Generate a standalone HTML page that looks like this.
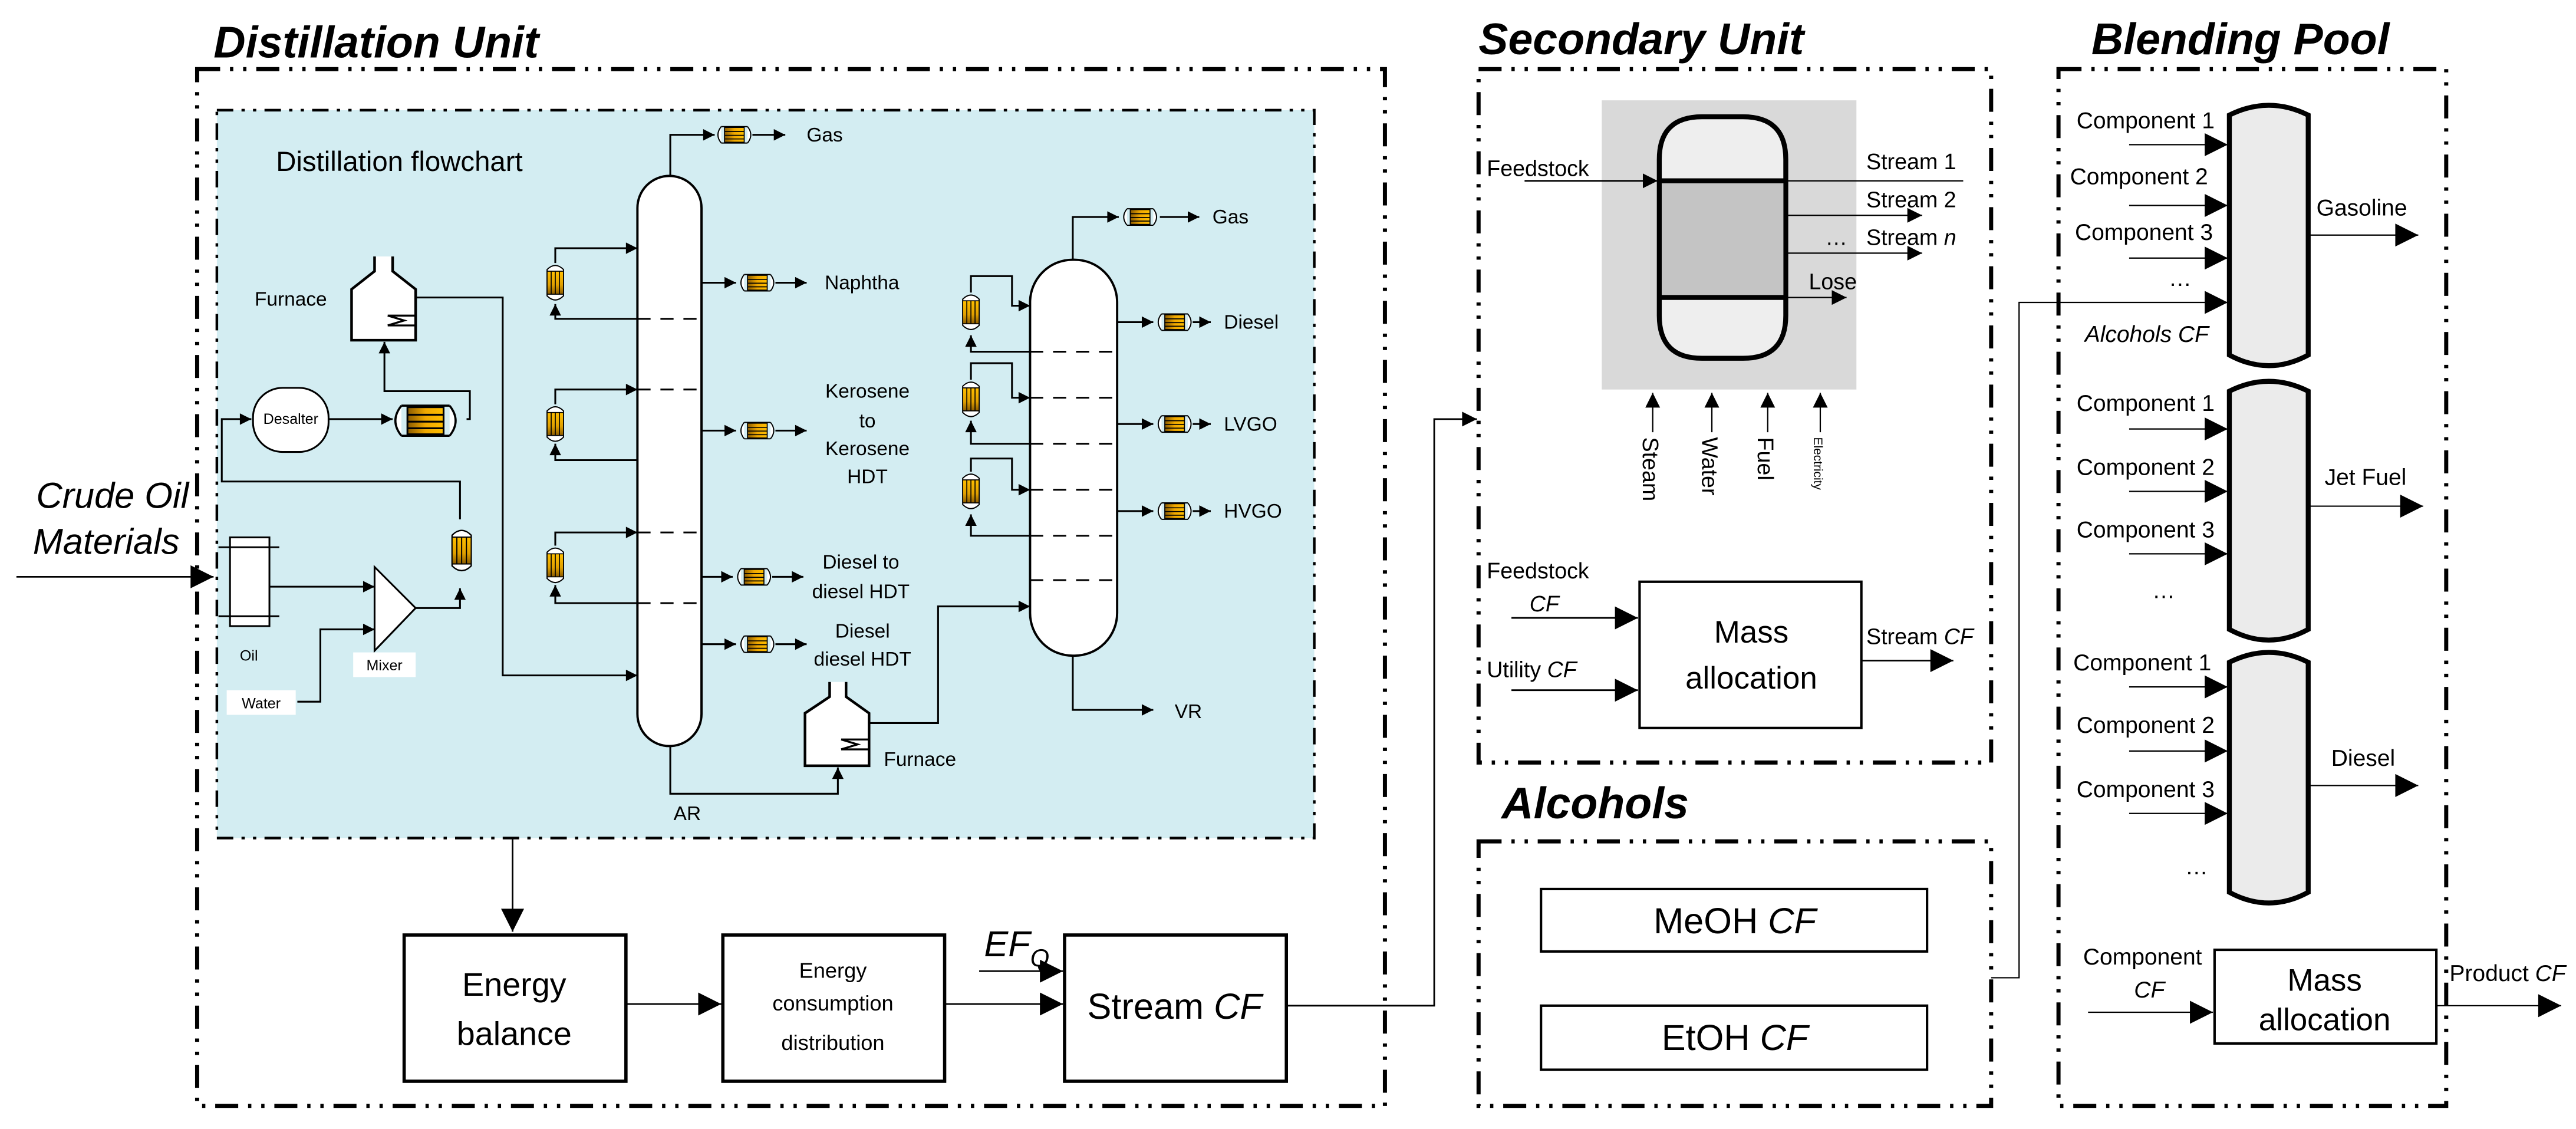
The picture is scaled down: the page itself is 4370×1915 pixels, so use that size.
<!DOCTYPE html>
<html><head><meta charset="utf-8">
<style>
html,body{margin:0;padding:0;background:#fff;}
svg{display:block;}
text{font-family:"Liberation Sans",sans-serif;fill:#000;}
</style></head>
<body>
<svg width="4370" height="1915" viewBox="0 0 1568 687" xmlns="http://www.w3.org/2000/svg">
<defs>
<marker id="s" viewBox="0 0 10 10" refX="10" refY="5" markerUnits="userSpaceOnUse" markerWidth="8" markerHeight="7" orient="auto"><path d="M0,0L10,5L0,10z"/></marker>
<marker id="m" viewBox="0 0 10 10" refX="10" refY="5" markerUnits="userSpaceOnUse" markerWidth="13" markerHeight="9" orient="auto"><path d="M0,0L10,5L0,10z"/></marker>
<marker id="b" viewBox="0 0 10 10" refX="10" refY="5" markerUnits="userSpaceOnUse" markerWidth="20" markerHeight="14" orient="auto"><path d="M0,0L10,5L0,10z"/></marker>
<linearGradient id="og" x1="0" x2="1" y1="0" y2="0"><stop offset="0" stop-color="#8a5a00"/><stop offset="0.5" stop-color="#f0a800"/><stop offset="1" stop-color="#ffbf00"/></linearGradient>
<linearGradient id="ogv" x1="0" x2="0" y1="0" y2="1"><stop offset="0" stop-color="#ffbf00"/><stop offset="0.6" stop-color="#e0a000"/><stop offset="1" stop-color="#8a5a00"/></linearGradient>
<symbol id="hx" viewBox="-11 -6 22 12" overflow="visible">
<path d="M-8,-5 Q-12,0 -8,5 M8,-5 Q12,0 8,5" fill="#fff" stroke="#000" stroke-width="0.7"/>
<path d="M-8,-5 L8,-5 M-8,5 L8,5" stroke="#000" stroke-width="0.7"/>
<rect x="-6" y="-4.5" width="12" height="9" fill="url(#og)" stroke="#000" stroke-width="0.6"/>
<path d="M-6,-2 H6 M-6,0.3 H6 M-6,2.5 H6" stroke="#000" stroke-width="0.6"/>
</symbol>
<symbol id="vx" viewBox="-6 -12 12 24" overflow="visible">
<path d="M-5,-8 Q0,-13 5,-8 L5,8 Q0,13 -5,8 Z" fill="#fff" stroke="#000" stroke-width="0.7"/>
<rect x="-5" y="-7" width="10" height="14" fill="url(#ogv)" stroke="#000" stroke-width="0.6"/>
<path d="M-2.5,-7 V7 M0,-7 V7 M2.5,-7 V7" stroke="#000" stroke-width="0.6"/>
</symbol>
</defs>

<!-- ============ DISTILLATION UNIT ============ -->
<text x="130" y="35" font-size="27" font-weight="bold" font-style="italic">Distillation Unit</text>
<rect x="120" y="42" width="723" height="631" fill="none" stroke="#000" stroke-width="2.5" stroke-dasharray="14 6 2 6 2 6"/>
<rect x="132" y="67" width="668" height="443" fill="#d3edf2" stroke="#000" stroke-width="1.6" stroke-dasharray="10 5 2 5 2 5"/>
<text x="168" y="104" font-size="17">Distillation flowchart</text>

<text x="22" y="309" font-size="22" font-style="italic">Crude Oil</text>
<text x="20" y="337" font-size="22" font-style="italic">Materials</text>
<line x1="10" y1="351" x2="130" y2="351" stroke="#000" stroke-width="1" marker-end="url(#b)"/>

<g stroke="#000" stroke-width="1.1" fill="none">
<rect x="140" y="327" width="24" height="54" fill="#fff"/>
<line x1="133" y1="333" x2="170" y2="333"/><line x1="133" y1="375" x2="170" y2="375"/>
<line x1="164" y1="357" x2="228" y2="357" marker-end="url(#s)"/>
<polyline points="181,427 195,427 195,383 228,383" marker-end="url(#s)"/>
<polygon points="228,345 253,370 228,396" fill="#fff"/>
<polyline points="253,370 280,370 280,358" marker-end="url(#s)"/>
<polyline points="280,316 280,293 135,293 135,255 153,255" marker-end="url(#s)"/>
<rect x="154" y="236" width="46" height="39" rx="18" fill="#fff"/>
<line x1="200" y1="255" x2="239" y2="255" marker-end="url(#s)"/>
<polyline points="284,255 286,255 286,238 234,238 234,208" marker-end="url(#s)"/>
<path d="M228,156 V165 L214,176 V207 H253 V176 L239,165 V156" fill="#fff" stroke-width="1.6"/>
<path d="M236,192 H253 M236,198 H253 M236,192 L246,195 L236,198" stroke-width="1.2"/>
<polyline points="253,181 306,181 306,411 388,411" marker-end="url(#s)"/>
<rect x="388" y="107" width="39" height="347" rx="19.5" fill="#fff" stroke-width="1.4"/>
<polyline points="408,107 408,82 435,82" marker-end="url(#s)"/>
<line x1="458" y1="82" x2="478" y2="82" marker-end="url(#s)"/>
<line x1="427" y1="172" x2="448" y2="172" marker-end="url(#s)"/>
<line x1="472" y1="172" x2="491" y2="172" marker-end="url(#s)"/>
<line x1="427" y1="262" x2="448" y2="262" marker-end="url(#s)"/>
<line x1="472" y1="262" x2="491" y2="262" marker-end="url(#s)"/>
<line x1="427" y1="351" x2="446" y2="351" marker-end="url(#s)"/>
<line x1="470" y1="351" x2="489" y2="351" marker-end="url(#s)"/>
<line x1="427" y1="392" x2="448" y2="392" marker-end="url(#s)"/>
<line x1="472" y1="392" x2="491" y2="392" marker-end="url(#s)"/>
<g stroke-dasharray="8 6"><line x1="388" y1="194" x2="426" y2="194"/><line x1="388" y1="237" x2="426" y2="237"/><line x1="388" y1="324" x2="426" y2="324"/><line x1="388" y1="367" x2="426" y2="367"/></g>
<polyline points="338,160 338,151 388,151" marker-end="url(#s)"/>
<polyline points="388,194 338,194 338,185" marker-end="url(#s)"/>
<polyline points="338,246 338,237 388,237" marker-end="url(#s)"/>
<polyline points="388,280 338,280 338,270" marker-end="url(#s)"/>
<polyline points="338,332 338,324 388,324" marker-end="url(#s)"/>
<polyline points="388,367 338,367 338,356" marker-end="url(#s)"/>
<polyline points="408,454 408,483 510,483 510,467" marker-end="url(#s)"/>
<path d="M505,415 V424 L490,434 V466 H529 V434 L515,424 V415" fill="#fff" stroke-width="1.6"/>
<path d="M512,450 H529 M512,456 H529 M512,450 L522,453 L512,456" stroke-width="1.2"/>
<polyline points="529,440 571,440 571,369 627,369" marker-end="url(#s)"/>
<rect x="627" y="158" width="53" height="241" rx="26" fill="#fff" stroke-width="1.4"/>
<polyline points="653,158 653,132 681,132" marker-end="url(#s)"/>
<line x1="706" y1="132" x2="730" y2="132" marker-end="url(#s)"/>
<line x1="680" y1="196" x2="702" y2="196" marker-end="url(#s)"/>
<line x1="726" y1="196" x2="737" y2="196" marker-end="url(#s)"/>
<line x1="680" y1="258" x2="702" y2="258" marker-end="url(#s)"/>
<line x1="726" y1="258" x2="737" y2="258" marker-end="url(#s)"/>
<line x1="680" y1="311" x2="702" y2="311" marker-end="url(#s)"/>
<line x1="726" y1="311" x2="737" y2="311" marker-end="url(#s)"/>
<g stroke-dasharray="8 6"><line x1="627" y1="214" x2="679" y2="214"/><line x1="627" y1="242" x2="679" y2="242"/><line x1="627" y1="270" x2="679" y2="270"/><line x1="627" y1="298" x2="679" y2="298"/><line x1="627" y1="326" x2="679" y2="326"/><line x1="627" y1="353" x2="679" y2="353"/></g>
<polyline points="591,178 591,168 616,168 616,186 627,186" marker-end="url(#s)"/>
<polyline points="627,214 591,214 591,204" marker-end="url(#s)"/>
<polyline points="591,231 591,221 616,221 616,242 627,242" marker-end="url(#s)"/>
<polyline points="627,270 591,270 591,256" marker-end="url(#s)"/>
<polyline points="591,287 591,279 616,279 616,298 627,298" marker-end="url(#s)"/>
<polyline points="627,326 591,326 591,313" marker-end="url(#s)"/>
<polyline points="653,399 653,432 702,432" marker-end="url(#s)"/>
</g>
<use href="#hx" x="237" y="245" width="44" height="22"/>
<use href="#vx" x="274" y="315" width="14" height="40"/>
<use href="#hx" x="435" y="76" width="24" height="12"/>
<use href="#hx" x="449" y="166" width="24" height="12"/>
<use href="#hx" x="449" y="256" width="24" height="12"/>
<use href="#hx" x="447" y="345" width="24" height="12"/>
<use href="#hx" x="449" y="386" width="24" height="12"/>
<use href="#hx" x="682" y="126" width="24" height="12"/>
<use href="#hx" x="703" y="190" width="24" height="12"/>
<use href="#hx" x="703" y="252" width="24" height="12"/>
<use href="#hx" x="703" y="305" width="24" height="12"/>
<use href="#vx" x="332" y="159" width="12" height="26"/>
<use href="#vx" x="332" y="245" width="12" height="26"/>
<use href="#vx" x="332" y="331" width="12" height="26"/>
<use href="#vx" x="585" y="177" width="12" height="26"/>
<use href="#vx" x="585" y="230" width="12" height="26"/>
<use href="#vx" x="585" y="286" width="12" height="26"/>

<rect x="138" y="420" width="42" height="15" fill="#fff"/>
<rect x="215" y="397" width="38" height="15" fill="#fff"/>
<g font-size="9">
<text x="159" y="431" text-anchor="middle">Water</text>
<text x="234" y="408" text-anchor="middle">Mixer</text>
<text x="146" y="402">Oil</text>
<text x="177" y="258" text-anchor="middle">Desalter</text>
</g>
<g font-size="12">
<text x="155" y="186">Furnace</text>
<text x="491" y="86">Gas</text>
<text x="502" y="176">Naphtha</text>
<text x="528" y="242" text-anchor="middle">Kerosene</text>
<text x="528" y="260" text-anchor="middle">to</text>
<text x="528" y="277" text-anchor="middle">Kerosene</text>
<text x="528" y="294" text-anchor="middle">HDT</text>
<text x="524" y="346" text-anchor="middle">Diesel to</text>
<text x="524" y="364" text-anchor="middle">diesel HDT</text>
<text x="525" y="388" text-anchor="middle">Diesel</text>
<text x="525" y="405" text-anchor="middle">diesel HDT</text>
<text x="538" y="466">Furnace</text>
<text x="410" y="499">AR</text>
<text x="738" y="136">Gas</text>
<text x="745" y="200">Diesel</text>
<text x="745" y="262">LVGO</text>
<text x="745" y="315">HVGO</text>
<text x="715" y="437">VR</text>
</g>

<g stroke="#000" fill="none">
<line x1="312" y1="510" x2="312" y2="567" stroke-width="1" marker-end="url(#b)"/>
<rect x="246" y="569" width="135" height="89" stroke-width="2" fill="#fff"/>
<rect x="440" y="569" width="135" height="89" stroke-width="2" fill="#fff"/>
<rect x="648" y="569" width="135" height="89" stroke-width="2" fill="#fff"/>
<line x1="381" y1="611" x2="439" y2="611" stroke-width="1" marker-end="url(#b)"/>
<line x1="575" y1="611" x2="647" y2="611" stroke-width="1" marker-end="url(#b)"/>
<line x1="596" y1="591" x2="647" y2="591" stroke-width="1" marker-end="url(#b)"/>
<polyline points="783,612 873,612 873,255 899,255" stroke-width="1" marker-end="url(#m)"/>
</g>
<text x="313" y="606" font-size="20" text-anchor="middle">Energy</text>
<text x="313" y="636" font-size="20" text-anchor="middle">balance</text>
<text x="507" y="595" font-size="13" text-anchor="middle">Energy</text>
<text x="507" y="615" font-size="13" text-anchor="middle">consumption</text>
<text x="507" y="639" font-size="13" text-anchor="middle">distribution</text>
<text x="715" y="620" font-size="22" text-anchor="middle">Stream <tspan font-style="italic">CF</tspan></text>
<text x="599" y="582" font-size="22" font-style="italic">EF<tspan font-size="15" dy="6">Q</tspan></text>

<!-- ============ SECONDARY UNIT ============ -->
<text x="900" y="33" font-size="27" font-weight="bold" font-style="italic">Secondary Unit</text>
<rect x="900" y="42" width="312" height="422" fill="none" stroke="#000" stroke-width="2.5" stroke-dasharray="14 6 2 6 2 6"/>
<rect x="975" y="61" width="155" height="176" fill="#d9d9d9"/>
<path d="M1010,97 Q1010,71 1036,71 L1061,71 Q1087,71 1087,97 L1087,192 Q1087,218 1061,218 L1036,218 Q1010,218 1010,192 Z" fill="#eeeeee" stroke="#000" stroke-width="3"/>
<rect x="1011.5" y="110" width="74" height="71" fill="#c4c4c4"/>
<g stroke="#000">
<line x1="1010" y1="110" x2="1087" y2="110" stroke-width="3"/>
<line x1="1010" y1="181" x2="1087" y2="181" stroke-width="3"/>
<line x1="928" y1="110" x2="1009" y2="110" stroke-width="1" marker-end="url(#m)"/>
<line x1="1087" y1="110" x2="1195" y2="110" stroke-width="0.8"/>
<line x1="1087" y1="131" x2="1170" y2="131" stroke-width="0.8" marker-end="url(#m)"/>
<line x1="1087" y1="154" x2="1170" y2="154" stroke-width="0.8" marker-end="url(#m)"/>
<line x1="1087" y1="181" x2="1124" y2="181" stroke-width="0.8" marker-end="url(#m)"/>
<line x1="1006" y1="263" x2="1006" y2="239" stroke-width="0.8" marker-end="url(#m)"/>
<line x1="1042" y1="263" x2="1042" y2="239" stroke-width="0.8" marker-end="url(#m)"/>
<line x1="1076" y1="263" x2="1076" y2="239" stroke-width="0.8" marker-end="url(#m)"/>
<line x1="1108" y1="263" x2="1108" y2="239" stroke-width="0.8" marker-end="url(#m)"/>
<line x1="920" y1="376" x2="997" y2="376" stroke-width="1" marker-end="url(#b)"/>
<line x1="920" y1="420" x2="997" y2="420" stroke-width="1" marker-end="url(#b)"/>
<line x1="1133" y1="402" x2="1189" y2="402" stroke-width="1" marker-end="url(#b)"/>
</g>
<rect x="998" y="354" width="135" height="89" fill="#fff" stroke="#000" stroke-width="1.5"/>
<g font-size="13.5">
<text x="905" y="107">Feedstock</text>
<text x="1136" y="103">Stream 1</text>
<text x="1136" y="126">Stream 2</text>
<text x="1111" y="149">…</text>
<text x="1136" y="149">Stream <tspan font-style="italic">n</tspan></text>
<text x="1101" y="176">Lose</text>
<text x="905" y="352">Feedstock</text>
<text x="931" y="372" font-style="italic">CF</text>
<text x="905" y="412">Utility <tspan font-style="italic">CF</tspan></text>
<text x="1136" y="392">Stream <tspan font-style="italic">CF</tspan></text>
</g>
<g font-size="13.5">
<text transform="translate(1000,266) rotate(90)">Steam</text>
<text transform="translate(1036,266) rotate(90)">Water</text>
<text transform="translate(1070,266) rotate(90)">Fuel</text>
<text transform="translate(1104,266) rotate(90)" font-size="7.5">Electricity</text>
</g>
<text x="1066" y="391" font-size="19" text-anchor="middle">Mass</text>
<text x="1066" y="419" font-size="19" text-anchor="middle">allocation</text>

<!-- ============ ALCOHOLS ============ -->
<text x="914" y="498" font-size="27" font-weight="bold" font-style="italic">Alcohols</text>
<rect x="900" y="512" width="312" height="161" fill="none" stroke="#000" stroke-width="2.5" stroke-dasharray="14 6 2 6 2 6"/>
<rect x="938" y="541" width="235" height="38" fill="#fff" stroke="#000" stroke-width="1.5"/>
<rect x="938" y="612" width="235" height="39" fill="#fff" stroke="#000" stroke-width="1.5"/>
<text x="1056" y="568" font-size="22" text-anchor="middle">MeOH <tspan font-style="italic">CF</tspan></text>
<text x="1056" y="639" font-size="22" text-anchor="middle">EtOH <tspan font-style="italic">CF</tspan></text>
<polyline points="1212,595 1229,595 1229,184 1356,184" fill="none" stroke="#000" stroke-width="0.8" marker-end="url(#b)"/>

<!-- ============ BLENDING POOL ============ -->
<text x="1273" y="33" font-size="27" font-weight="bold" font-style="italic">Blending Pool</text>
<rect x="1253" y="42" width="236" height="631" fill="none" stroke="#000" stroke-width="2.5" stroke-dasharray="14 6 2 6 2 6"/>
<g fill="#ebebeb" stroke="#000" stroke-width="3">
<path d="M1357,70 Q1381,58 1405,70 L1405,216 Q1381,229 1357,216 Z"/>
<path d="M1357,238 Q1381,226 1405,238 L1405,383 Q1381,396 1357,383 Z"/>
<path d="M1357,403 Q1381,391 1405,403 L1405,543 Q1381,556 1357,543 Z"/>
</g>
<g stroke="#000" stroke-width="0.8">
<line x1="1296" y1="88" x2="1356" y2="88" marker-end="url(#b)"/>
<line x1="1296" y1="125" x2="1356" y2="125" marker-end="url(#b)"/>
<line x1="1296" y1="157" x2="1356" y2="157" marker-end="url(#b)"/>
<line x1="1405" y1="143" x2="1472" y2="143" marker-end="url(#b)"/>
<line x1="1296" y1="261" x2="1356" y2="261" marker-end="url(#b)"/>
<line x1="1296" y1="299" x2="1356" y2="299" marker-end="url(#b)"/>
<line x1="1296" y1="337" x2="1356" y2="337" marker-end="url(#b)"/>
<line x1="1405" y1="308" x2="1475" y2="308" marker-end="url(#b)"/>
<line x1="1296" y1="418" x2="1356" y2="418" marker-end="url(#b)"/>
<line x1="1296" y1="457" x2="1356" y2="457" marker-end="url(#b)"/>
<line x1="1296" y1="495" x2="1356" y2="495" marker-end="url(#b)"/>
<line x1="1405" y1="478" x2="1472" y2="478" marker-end="url(#b)"/>
<line x1="1271" y1="616" x2="1347" y2="616" marker-end="url(#b)"/>
<line x1="1483" y1="612" x2="1559" y2="612" marker-end="url(#b)"/>
</g>
<rect x="1348" y="578" width="135" height="57" fill="#fff" stroke="#000" stroke-width="1.5"/>
<g font-size="14">
<text x="1264" y="78">Component 1</text>
<text x="1260" y="112">Component 2</text>
<text x="1263" y="146">Component 3</text>
<text x="1320" y="174">…</text>
<text x="1269" y="208" font-style="italic">Alcohols CF</text>
<text x="1410" y="131">Gasoline</text>
<text x="1264" y="250">Component 1</text>
<text x="1264" y="289">Component 2</text>
<text x="1264" y="327">Component 3</text>
<text x="1310" y="364">…</text>
<text x="1415" y="295">Jet Fuel</text>
<text x="1262" y="408">Component 1</text>
<text x="1264" y="446">Component 2</text>
<text x="1264" y="485">Component 3</text>
<text x="1330" y="532">…</text>
<text x="1419" y="466">Diesel</text>
<text x="1268" y="587">Component</text>
<text x="1299" y="607" font-style="italic">CF</text>
<text x="1491" y="597">Product <tspan font-style="italic">CF</tspan></text>
</g>
<text x="1415" y="603" font-size="19" text-anchor="middle">Mass</text>
<text x="1415" y="627" font-size="19" text-anchor="middle">allocation</text>
</svg>
</body></html>
